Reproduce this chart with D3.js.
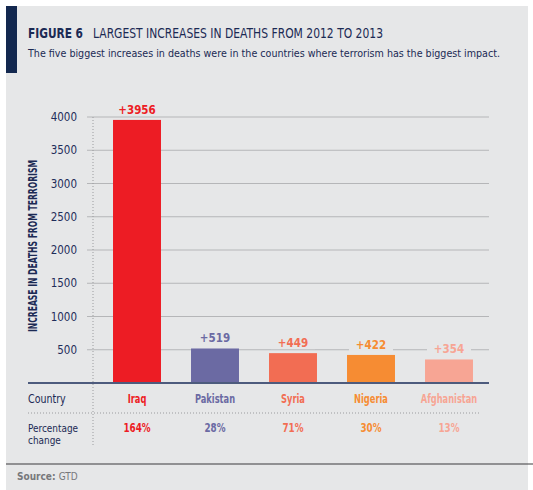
<!DOCTYPE html>
<html lang="en">
<head>
  <meta charset="UTF-8">
  <title>Figure 6</title>
  <script src="https://d3js.org/d3.v7.min.js"></script>
  <style>
    body { margin: 0; background: #fff; }
    text { font-family: "DejaVu Sans Condensed", "DejaVu Sans", sans-serif; }
    .tick-label { font-size: 11.5px; fill: #1f2d5a; }
    .grid { stroke: #b5b6b8; stroke-width: 1; }
  </style>
</head>
<body>
  <div id="chart"></div>
  <script>
    // data
    const countries = ["Iraq", "Pakistan", "Syria", "Nigeria", "Afghanistan"];
    const increases = [3956, 519, 449, 422, 354];
    const pctChange = ["164%", "28%", "71%", "30%", "13%"];
    const barColors = ["#ed1c24", "#6b6aa3", "#f26d53", "#f68c33", "#f7a594"];
    const yTicks = [500, 1000, 1500, 2000, 2500, 3000, 3500, 4000];

    const width = 533, height = 490;
    const bg = "#e6e7e8", navy = "#1b2a54";

    // squeeze a text to look like the narrow face of the original
    function narrow(sel, k) {
      sel.each(function () {
        const w = this.getComputedTextLength();
        d3.select(this).attr("textLength", w * k).attr("lengthAdjust", "spacingAndGlyphs");
      });
    }

    const svg = d3.select("#chart").append("svg")
      .attr("width", width)
      .attr("height", height);

    svg.append("rect")
      .attr("x", 6).attr("y", 6)
      .attr("width", 522).attr("height", 484)
      .attr("fill", bg);

    svg.append("rect")
      .attr("x", 6).attr("y", 6)
      .attr("width", 11).attr("height", 67)
      .attr("fill", "#13284f");

    // title
    svg.append("text")
      .attr("x", 28).attr("y", 38)
      .attr("font-size", 14).attr("font-weight", "bold")
      .attr("fill", navy)
      .attr("textLength", 55).attr("lengthAdjust", "spacingAndGlyphs")
      .text("FIGURE 6");
    svg.append("text")
      .attr("x", 93).attr("y", 38)
      .attr("font-size", 14)
      .attr("fill", navy)
      .attr("textLength", 290).attr("lengthAdjust", "spacingAndGlyphs")
      .text("LARGEST INCREASES IN DEATHS FROM 2012 TO 2013");
    svg.append("text")
      .attr("x", 28).attr("y", 57)
      .attr("font-size", 10.5)
      .attr("fill", navy)
      .attr("textLength", 472).attr("lengthAdjust", "spacingAndGlyphs")
      .text("The five biggest increases in deaths were in the countries where terrorism has the biggest impact.");

    const x = d3.scaleBand()
      .domain(countries)
      .range([98, 488])
      .paddingInner(0.385)
      .paddingOuter(0.1925);

    const y = d3.scaleLinear()
      .domain([0, 4000])
      .range([383, 117]);

    const rows = countries.map((c, i) => ({
      country: c, value: increases[i], pct: pctChange[i], color: barColors[i]
    }));

    // gridlines
    svg.append("g")
      .selectAll("line")
      .data(yTicks)
      .join("line")
      .attr("class", "grid")
      .attr("x1", 87).attr("x2", 489)
      .attr("y1", d => y(d)).attr("y2", d => y(d));

    // y tick labels via axis
    const yAxis = svg.append("g")
      .attr("transform", "translate(80,0)")
      .call(d3.axisLeft(y).tickValues(yTicks).tickFormat(d3.format("d")).tickSize(0).tickPadding(3));
    yAxis.select(".domain").remove();
    yAxis.selectAll("text")
      .attr("class", "tick-label")
      .attr("font-family", null)
      .attr("font-size", null);

    svg.append("text")
      .attr("transform", "translate(37,246) rotate(-90)")
      .attr("text-anchor", "middle")
      .attr("font-size", 12).attr("font-weight", "bold")
      .attr("fill", navy)
      .attr("textLength", 172).attr("lengthAdjust", "spacingAndGlyphs")
      .text("INCREASE IN DEATHS FROM TERRORISM");

    // dotted separator
    svg.append("line")
      .attr("x1", 93).attr("x2", 93)
      .attr("y1", 117).attr("y2", 445)
      .attr("stroke", "#9a9b9e")
      .attr("stroke-dasharray", "1,2");

    // bars
    svg.append("g")
      .selectAll("rect")
      .data(rows)
      .join("rect")
      .attr("x", d => x(d.country))
      .attr("y", d => y(d.value))
      .attr("width", x.bandwidth())
      .attr("height", d => y(0) - y(d.value))
      .attr("fill", d => d.color);

    // value labels
    const labels = svg.append("g")
      .selectAll("g")
      .data(rows)
      .join("g")
      .attr("transform", d => `translate(${x(d.country) + x.bandwidth() / 2},${y(d.value) - 6})`);
    labels.append("rect")
      .attr("x", -22).attr("y", -12)
      .attr("width", 44).attr("height", 14)
      .attr("fill", bg);
    labels.append("text")
      .attr("text-anchor", "middle")
      .attr("font-family", "'DejaVu Sans', sans-serif")
      .attr("font-size", 11.5).attr("font-weight", "bold")
      .attr("fill", d => d.color)
      .text(d => "+" + d.value);

    // baseline
    svg.append("line")
      .attr("x1", 28).attr("x2", 489)
      .attr("y1", y(0)).attr("y2", y(0))
      .attr("stroke", "#4d5b7d")
      .attr("stroke-width", 2);

    // table
    svg.append("text")
      .attr("x", 28).attr("y", 403)
      .attr("font-size", 12).attr("fill", navy)
      .text("Country")
      .call(narrow, 0.88);
    svg.append("line")
      .attr("x1", 28).attr("x2", 480)
      .attr("y1", 413).attr("y2", 413)
      .attr("stroke", "#9a9b9e")
      .attr("stroke-dasharray", "1,2");
    svg.append("text")
      .attr("x", 28).attr("y", 432)
      .attr("font-size", 11).attr("fill", navy)
      .text("Percentage")
      .call(narrow, 0.9);
    svg.append("text")
      .attr("x", 28).attr("y", 444)
      .attr("font-size", 11).attr("fill", navy)
      .text("change")
      .call(narrow, 0.9);

    svg.append("g")
      .selectAll("text")
      .data(rows)
      .join("text")
      .attr("x", d => x(d.country) + x.bandwidth() / 2)
      .attr("y", 403)
      .attr("text-anchor", "middle")
      .attr("font-size", 11.5).attr("font-weight", "bold")
      .attr("fill", d => d.color)
      .text(d => d.country)
      .call(narrow, 0.8);

    svg.append("g")
      .selectAll("text")
      .data(rows)
      .join("text")
      .attr("x", d => x(d.country) + x.bandwidth() / 2)
      .attr("y", 432)
      .attr("text-anchor", "middle")
      .attr("font-size", 11.5).attr("font-weight", "bold")
      .attr("fill", d => d.color)
      .text(d => d.pct)
      .call(narrow, 0.85);

    // source
    svg.append("line")
      .attr("x1", 6).attr("x2", 533)
      .attr("y1", 464).attr("y2", 464)
      .attr("stroke", "#3a3a3c")
      .attr("stroke-width", 1.2);
    const src = svg.append("text")
      .attr("x", 17).attr("y", 480)
      .attr("font-size", 10).attr("fill", "#77787b");
    src.append("tspan").attr("font-weight", "bold").text("Source: ");
    src.append("tspan").text("GTD");
  </script>
</body>
</html>
